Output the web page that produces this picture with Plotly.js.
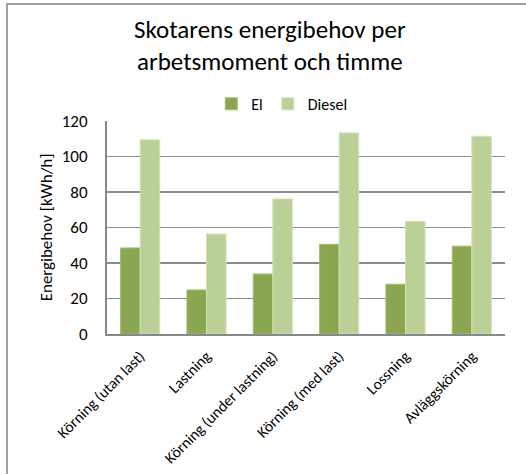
<!DOCTYPE html>
<html>
<head>
<meta charset="utf-8">
<script src="https://cdn.plot.ly/plotly-3.0.1.min.js"></script>
<style>
html,body{margin:0;padding:0;background:#fff;}
#wrap{position:absolute;left:0;top:0;width:526px;height:474px;overflow:hidden;}
#frame{position:absolute;left:6px;top:3px;width:600px;height:600px;border-top:2px solid #a0a0a0;border-left:2px solid #a0a0a0;pointer-events:none;}
#chart{position:absolute;left:0;top:0;width:526px;height:474px;}
</style>
</head>
<body>
<div id="wrap">
<div id="chart"></div>
<div id="frame"></div>
</div>
<script>
const categories = ["Körning (utan last)", "Lastning", "Körning (under lastning)", "Körning (med last)", "Lossning", "Avläggskörning"];
const elValues = [48.5, 24.8, 33.8, 50.5, 28, 49.5];
const dieselValues = [109.4, 56.3, 76.1, 113.3, 63.4, 111.4];
const seriesNames = ["El", "Diesel"];
const yTicks = [0, 20, 40, 60, 80, 100, 120];

const FONT = "Carlito, Calibri, Lato, 'Open Sans', sans-serif";

const traces = [
  {type: "bar", name: seriesNames[0], x: categories, y: elValues,
   marker: {color: "#8ba650", line: {color: "#a3bb70", width: 1}}},
  {type: "bar", name: seriesNames[1], x: categories, y: dieselValues,
   marker: {color: "#bbd096", line: {color: "#d3e1bb", width: 1}}}
];

const layout = {
  width: 526, height: 474,
  paper_bgcolor: "rgba(0,0,0,0)", plot_bgcolor: "#fff",
  margin: {l: 107, r: 21, t: 121, b: 140},
  font: {family: FONT, color: "#000"},
  title: {text: "Skotarens energibehov per<br>arbetsmoment och timme",
          font: {family: FONT, size: 25, color: "#000"},
          x: 0.513, xanchor: "center", y: 0.92, yanchor: "top"},
  showlegend: true,
  legend: {orientation: "h", x: 0.262, xanchor: "left", y: 1.08, yanchor: "middle",
           font: {family: FONT, size: 16, color: "#000"}, itemwidth: 30, traceorder: "normal"},
  barmode: "group", bargap: 0.41, bargroupgap: 0,
  xaxis: {type: "category", tickangle: -45, tickfont: {family: FONT, size: 15.5, color: "#000"},
          showline: true, linecolor: "#888", linewidth: 2, ticks: "outside", ticklen: 5,
          tickcolor: "rgba(0,0,0,0)", showgrid: false, fixedrange: true},
  yaxis: {range: [0, 120], tickvals: yTicks, ticktext: yTicks.map(String),
          tickfont: {family: FONT, size: 17, color: "#000"},
          showgrid: true, gridcolor: "#8c8c8c", gridwidth: 1.5,
          showline: true, linecolor: "#888", linewidth: 2, zeroline: false,
          ticks: "outside", ticklen: 14, tickcolor: "rgba(0,0,0,0)",
          title: {text: "Energibehov [kWh/h]", font: {family: FONT, size: 17, color: "#000"}, standoff: 5}}
};

Plotly.newPlot("chart", traces, layout, {displayModeBar: false, staticPlot: true});
</script>
</body>
</html>
